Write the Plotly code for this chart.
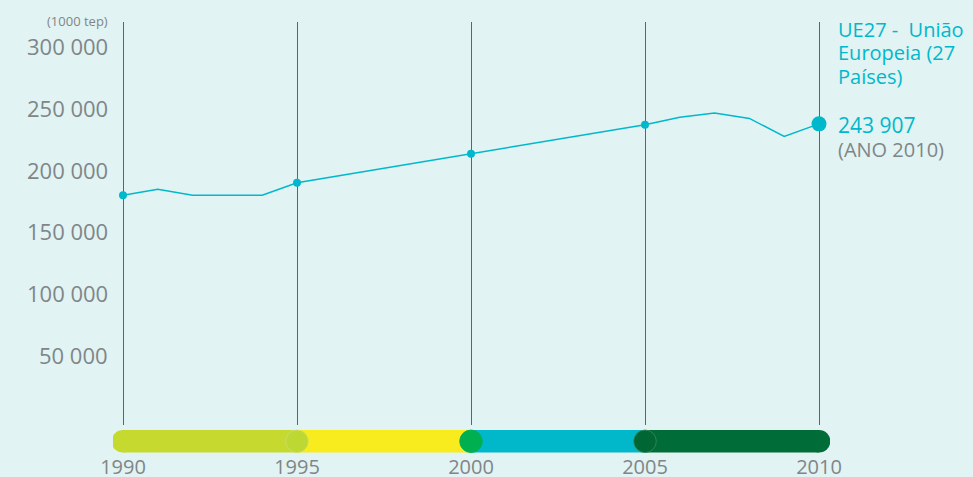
import plotly.graph_objects as go

years = list(range(1990, 2011))
values = [186100, 191000, 186100, 186100, 186100, 196200, 200900, 205600, 210300, 215000,
          219700, 224400, 229100, 233800, 238500, 243200, 249300, 252600, 248300, 233700, 243907]

marker_years = [1990, 1995, 2000, 2005]
highlight_year = 2010

ytick_vals = [50000, 100000, 150000, 200000, 250000, 300000]
ytick_text = ["50 000", "100 000", "150 000", "200 000", "250 000", "300 000"]
xtick_vals = [1990, 1995, 2000, 2005, 2010]
xtick_text = ["1990", "1995", "2000", "2005", "2010"]

period_starts = [1990, 1995, 2000, 2005]
period_ends = [1995, 2000, 2005, 2010]
period_colors = ["#C5D92E", "#F8EC1F", "#00B8CA", "#006C37"]
joint_years = [1995, 2000, 2005]
joint_colors = ["#BDD733", "#00B050", "#006633"]
joint_outline = ["#CFE06A", "#00B050", "#3A8A5C"]

series_name = ["UE27 -  União", "Europeia (27", "Países)"]
unit_label = "(1000 tep)"
value_label = "243 907"
year_label = "(ANO 2010)"

W, H = 973, 477
L, R, T, B = 113, 143, 22, 52
PW, PH = W - L - R, H - T - B
BG = "#E1F3F3"
CYAN = "#00B8CB"
GRAY = "#808688"
FONT = "Open Sans"

def px(xp):
    return (xp - L) / PW

def py(yp):
    return (H - B - yp) / PH

fig = go.Figure()
fig.add_trace(go.Scatter(x=years, y=values, mode="lines",
                         line=dict(color=CYAN, width=1.5), hoverinfo="skip"))
my = [values[years.index(y)] for y in marker_years]
fig.add_trace(go.Scatter(x=marker_years, y=my, mode="markers",
                         marker=dict(color=CYAN, size=8), hoverinfo="skip"))
fig.add_trace(go.Scatter(x=[highlight_year], y=[values[years.index(highlight_year)]],
                         mode="markers", marker=dict(color=CYAN, size=15), hoverinfo="skip"))

# timeline bar
bar_c = py(441.3)
rad = 11.3
shapes = []
for s, e, c in zip(period_starts, period_ends, period_colors):
    shapes.append(dict(type="rect", xref="x", yref="paper", ysizemode="pixel", yanchor=bar_c,
                       x0=s, x1=e, y0=-rad, y1=rad, fillcolor=c, line=dict(width=0), layer="above"))
for yr, c in [(period_starts[0], period_colors[0]), (period_ends[-1], period_colors[-1])]:
    shapes.append(dict(type="circle", xref="x", yref="paper", xsizemode="pixel", ysizemode="pixel",
                       xanchor=yr, yanchor=bar_c, x0=-rad, x1=rad, y0=-rad, y1=rad,
                       fillcolor=c, line=dict(width=0), layer="above"))
for yr, c, oc in zip(joint_years, joint_colors, joint_outline):
    shapes.append(dict(type="circle", xref="x", yref="paper", xsizemode="pixel", ysizemode="pixel",
                       xanchor=yr, yanchor=bar_c, x0=-rad, x1=rad, y0=-rad, y1=rad,
                       fillcolor=c, line=dict(width=0.8, color=oc), layer="above"))

annotations = [
    dict(text=unit_label, xref="paper", yref="paper", x=px(110), y=py(20.5), xanchor="right",
         yanchor="middle", showarrow=False, font=dict(family=FONT, size=13, color=GRAY)),
    dict(text=value_label, xref="paper", yref="paper", x=px(836), y=py(125), xanchor="left",
         yanchor="middle", showarrow=False, font=dict(family=FONT, size=21, color=CYAN)),
    dict(text=year_label, xref="paper", yref="paper", x=px(836), y=py(149.5), xanchor="left",
         yanchor="middle", showarrow=False, font=dict(family=FONT, size=20, color=GRAY)),
]
for i, line in enumerate(series_name):
    annotations.append(dict(text=line, xref="paper", yref="paper", x=px(836), y=py(29 + 23.5 * i),
                            xanchor="left", yanchor="middle", showarrow=False,
                            font=dict(family=FONT, size=20, color=CYAN)))
# y tick labels sit just above their value
for v, t in zip(ytick_vals, ytick_text):
    annotations.append(dict(text=t, xref="paper", yref="y", x=px(110), y=v, yshift=8.5,
                            xanchor="right", yanchor="middle", showarrow=False,
                            font=dict(family=FONT, size=22, color=GRAY)))

ppy = 34.8
fig.update_layout(
    width=W, height=H, margin=dict(l=L, r=R, t=T, b=B),
    paper_bgcolor=BG, plot_bgcolor=BG, showlegend=False,
    shapes=shapes, annotations=annotations,
    xaxis=dict(range=[1990 - (123 - L) / ppy, 2010 + (W - R - 819) / ppy], automargin=False,
               tickvals=xtick_vals, ticktext=xtick_text, showgrid=True, gridcolor="#5D6567",
               gridwidth=1, zeroline=False, showline=False, ticks="", ticklabelstandoff=28,
               tickfont=dict(family=FONT, size=20, color=GRAY), fixedrange=True),
    yaxis=dict(range=[0, 326400], showticklabels=False, showgrid=False,
               automargin=False, zeroline=False, showline=False, ticks="", fixedrange=True),
)
fig.write_html("out.html", config=dict(displayModeBar=False))
